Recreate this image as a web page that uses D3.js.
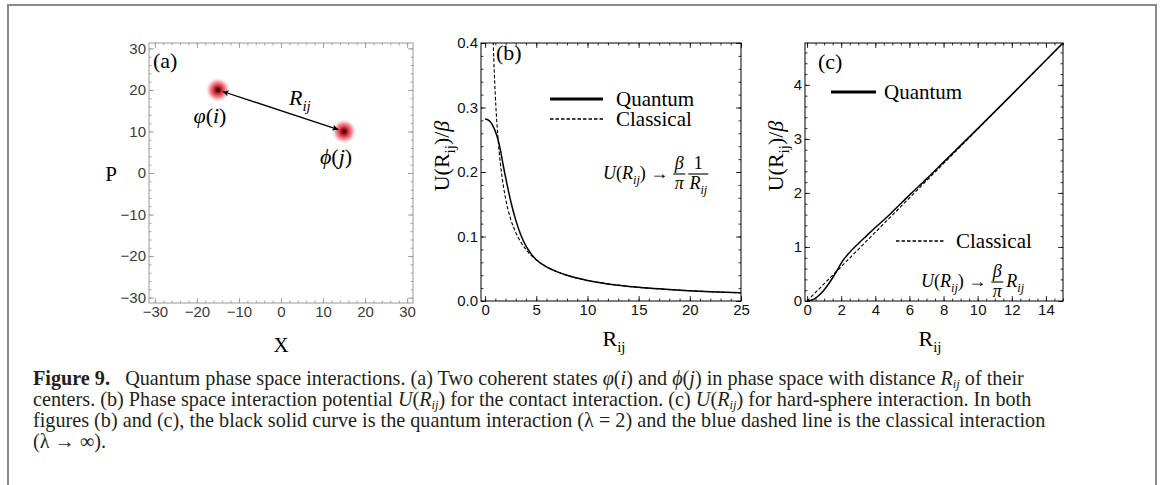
<!DOCTYPE html>
<html><head><meta charset="utf-8">
<script src="https://cdn.jsdelivr.net/npm/d3@7"></script>
<style>body{margin:0;background:#fff} svg{display:block}</style>
</head><body>
<svg id="fig" width="1163" height="485"></svg>
<script>
// ---------------- data ----------------
const aTicks = [-30, -20, -10, 0, 10, 20, 30];
const stateX = [-15, 15];
const stateP = [20, 10];
const stateSymbols = ["\u03C6", "\u03D5"];
const stateIndex = ["i", "j"];

const bTicksX = [0, 5, 10, 15, 20, 25];
const bTicksY = [0, 0.1, 0.2, 0.3, 0.4];
const bQuantumR = [0,0.25,0.5,0.75,1,1.25,1.5,1.75,2,2.5,3,3.5,4,4.5,5,6,7,8,10,12,15,20,25];
const bQuantumU = [0.282,0.281,0.278,0.272,0.263,0.251,0.234,0.212,0.192,0.155,0.125,0.102,0.085,0.073,0.064,0.053,0.0455,0.0398,0.0318,0.0265,0.0212,0.0159,0.0127];
const bClassicalR = [0.76,0.8,0.9,1,1.25,1.5,1.75,2,2.5,3,3.5,4,5,6,7,8,10,12,15,20,25];
const bClassicalU = [0.419,0.398,0.354,0.318,0.255,0.212,0.182,0.159,0.127,0.106,0.091,0.0796,0.0637,0.0531,0.0455,0.0398,0.0318,0.0265,0.0212,0.0159,0.0127];

const cTicksX = [0, 2, 4, 6, 8, 10, 12, 14];
const cTicksY = [0, 1, 2, 3, 4];
const cQuantumR = [0,0.25,0.5,0.75,1,1.25,1.5,1.75,2,2.5,3,3.5,4,4.5,5,6,7,8,10,12,15];
const cQuantumU = [0,0.015,0.055,0.12,0.205,0.31,0.43,0.557,0.70,0.90,1.06,1.21,1.36,1.50,1.65,1.96,2.26,2.57,3.19,3.82,4.775];
const cClassicalR = [0, 5, 10, 15];
const cClassicalU = [0, 1.59, 3.18, 4.775];

const legendLabels = ["Quantum", "Classical"];
const captionLines = [
  [{t:"Figure 9.", b:1},{t:"\u2002 Quantum phase space interactions. (a) Two coherent states "},{t:"\u03C6",i:1},{t:"("},{t:"i",i:1},{t:") and "},{t:"\u03D5",i:1},{t:"("},{t:"j",i:1},{t:") in phase space with distance "},{t:"R",i:1},{t:"ij",i:1,sub:1},{t:" of their"}],
  [{t:"centers. (b) Phase space interaction potential "},{t:"U",i:1},{t:"("},{t:"R",i:1},{t:"ij",i:1,sub:1},{t:") for the contact interaction. (c) "},{t:"U",i:1},{t:"("},{t:"R",i:1},{t:"ij",i:1,sub:1},{t:") for hard-sphere interaction. In both"}],
  [{t:"figures (b) and (c), the black solid curve is the quantum interaction ("},{t:"\u03BB = 2"},{t:") and the blue dashed line is the classical interaction"}],
  [{t:"(\u03BB \u2192 \u221E)."}]
];

// ---------------- helpers ----------------
const svg = d3.select("#fig");
const SERIF = "'Liberation Serif','Times New Roman',serif";
const SANS = "'Liberation Sans',Arial,sans-serif";

function rich(textSel, parts, size, subShift = 0.28, subSize = 0.68) {
  let off = 0;
  parts.forEach(p => {
    const ts = textSel.append("tspan").text(p.t);
    if (p.i) ts.attr("font-style", "italic");
    if (p.b) ts.attr("font-weight", "bold");
    const target = p.sub ? size * subShift : 0;
    if (target !== off) { ts.attr("dy", target - off); off = target; }
    if (p.sub) ts.attr("font-size", size * subSize);
  });
  return textSel;
}

function frame(g, x, y, opt) {
  const [x0, x1] = x.range(), [y0, y1] = y.range();
  const col = opt.color;
  const mk = (axisFn, scale, vals, size, labels, fmt) => {
    const a = axisFn(scale).tickValues(vals).tickSizeInner(-size).tickSizeOuter(0).tickPadding(opt.pad);
    if (!labels) a.tickFormat(""); else if (fmt) a.tickFormat(fmt);
    return a;
  };
  const put = (axis, tx, ty) => {
    const s = g.append("g").attr("transform", `translate(${tx},${ty})`).call(axis);
    s.select(".domain").remove();
    s.selectAll("line").attr("stroke", col).attr("stroke-width", 0.8);
    s.selectAll("text").attr("font-family", SANS).attr("font-size", 15).attr("fill", opt.labelColor);
    return s;
  };
  put(mk(d3.axisBottom, x, opt.xMinor, 2.5, false), 0, y0);
  put(mk(d3.axisTop, x, opt.xMinor, 2.5, false), 0, y1);
  put(mk(d3.axisLeft, y, opt.yMinor, 2.5, false), x0, 0);
  put(mk(d3.axisRight, y, opt.yMinor, 2.5, false), x1, 0);
  put(mk(d3.axisBottom, x, opt.xMajor, 5, true, opt.xFmt), 0, y0);
  put(mk(d3.axisTop, x, opt.xMajor, 5, false), 0, y1);
  put(mk(d3.axisLeft, y, opt.yMajor, 5, true, opt.yFmt), x0, 0);
  put(mk(d3.axisRight, y, opt.yMajor, 5, false), x1, 0);
  g.append("rect").attr("x", x0).attr("y", y1).attr("width", x1 - x0).attr("height", y0 - y1)
    .attr("fill", "none").attr("stroke", opt.frameColor).attr("stroke-width", opt.frameWidth);
}

function range(a, b, s) { return d3.range(Math.round(a / s), Math.round(b / s) + 1).map(k => +(k * s).toFixed(4)); }

// outer box
svg.append("path").attr("d", "M8,490 V5 H1156 V490").attr("fill", "none").attr("stroke", "#8a8a8a").attr("stroke-width", 2);

// ---------------- panel (a) ----------------
const ax = d3.scaleLinear().domain([-31.4, 31.4]).range([149, 413]);
const ay = d3.scaleLinear().domain([-31.3, 31.3]).range([303, 43]);
const ga = svg.append("g");
const defs = svg.append("defs");
const grad = defs.append("radialGradient").attr("id", "blob");
[[0, "#1a0000", 1], [0.12, "#5a0a10", 1], [0.3, "#d42230", 1], [0.62, "#e85a66", 0.65], [1, "#ffffff", 0]]
  .forEach(([o, c, op]) => grad.append("stop").attr("offset", o).attr("stop-color", c).attr("stop-opacity", op));
frame(ga, ax, ay, {xMajor: aTicks, yMajor: aTicks, xMinor: range(-30, 30, 2), yMinor: range(-30, 30, 2),
  color: "#8f8f8f", labelColor: "#3a3a3a", frameColor: "#9a9a9a", frameWidth: 1, pad: 3});
ga.selectAll("circle.blob").data(stateX).join("circle").attr("class", "blob")
  .attr("cx", d => ax(d)).attr("cy", (d, i) => ay(stateP[i])).attr("r", 13).attr("fill", "url(#blob)");
defs.append("marker").attr("id", "arr").attr("viewBox", "0 0 10 10").attr("refX", 10).attr("refY", 5)
  .attr("markerWidth", 9).attr("markerHeight", 6).attr("markerUnits", "userSpaceOnUse").attr("orient", "auto-start-reverse")
  .append("path").attr("d", "M0,0 L10,5 L0,10 L2.5,5 z").attr("fill", "#000");
const p1 = [ax(stateX[0]), ay(stateP[0])], p2 = [ax(stateX[1]), ay(stateP[1])];
const L = Math.hypot(p2[0] - p1[0], p2[1] - p1[1]);
const ux = (p2[0] - p1[0]) / L, uy = (p2[1] - p1[1]) / L;
ga.append("line").attr("x1", p1[0] + ux * 5).attr("y1", p1[1] + uy * 5).attr("x2", p2[0] - ux * 6).attr("y2", p2[1] - uy * 6)
  .attr("stroke", "#000").attr("stroke-width", 1.3).attr("marker-end", "url(#arr)").attr("marker-start", "url(#arr)");
const mid = [(p1[0] + p2[0]) / 2, (p1[1] + p2[1]) / 2];
rich(ga.append("text").attr("x", mid[0] + 8).attr("y", mid[1] - 6).attr("font-family", SERIF).attr("font-size", 22),
  [{t: "R", i: 1}, {t: "ij", i: 1, sub: 1}], 22);
stateX.forEach((d, i) => {
  rich(ga.append("text").attr("x", ax(d) - 8).attr("y", ay(stateP[i]) + 33).attr("text-anchor", "middle")
    .attr("font-family", SERIF).attr("font-size", 22),
    [{t: stateSymbols[i], i: 1}, {t: "("}, {t: stateIndex[i], i: 1}, {t: ")"}], 22);
});
ga.append("text").attr("x", 153).attr("y", 68).attr("font-family", SERIF).attr("font-size", 22).text("(a)");
ga.append("text").attr("x", 111).attr("y", 181).attr("text-anchor", "middle").attr("font-family", SERIF).attr("font-size", 21).text("P");
ga.append("text").attr("x", 281).attr("y", 352).attr("text-anchor", "middle").attr("font-family", SERIF).attr("font-size", 21).text("X");

// ---------------- panel (b) ----------------
const bx = d3.scaleLinear().domain([-0.4, 25]).range([481, 741]);
const by = d3.scaleLinear().domain([0, 0.4]).range([301, 43]);
const gb = svg.append("g");
defs.append("clipPath").attr("id", "clipb").append("rect").attr("x", 481).attr("y", 43).attr("width", 260).attr("height", 258);
const lineB = d3.line().curve(d3.curveMonotoneX);
gb.append("path").attr("clip-path", "url(#clipb)")
  .attr("d", lineB(bClassicalR.map((r, i) => [bx(r), by(bClassicalU[i])])))
  .attr("fill", "none").attr("stroke", "#000").attr("stroke-width", 1.1).attr("stroke-dasharray", "3.5,2");
gb.append("path").attr("clip-path", "url(#clipb)")
  .attr("d", lineB(bQuantumR.map((r, i) => [bx(r), by(bQuantumU[i])])))
  .attr("fill", "none").attr("stroke", "#000").attr("stroke-width", 1.5);
frame(gb, bx, by, {xMajor: bTicksX, yMajor: bTicksY, xMinor: range(0, 25, 1), yMinor: range(0, 0.4, 0.02),
  color: "#000", labelColor: "#111", frameColor: "#000", frameWidth: 1, pad: 3, yFmt: d3.format(".1f")});
gb.append("text").attr("x", 496).attr("y", 60).attr("font-family", SERIF).attr("font-size", 22).text("(b)");

function legend(g, x0, yy, texts) {
  texts.forEach((t, i) => {
    g.append("line").attr("x1", x0).attr("x2", x0 + 53).attr("y1", yy[i]).attr("y2", yy[i]).attr("stroke", "#000")
      .attr("stroke-width", i === 0 ? 3 : 1.4).attr("stroke-dasharray", i === 0 ? null : "3.5,2");
    g.append("text").attr("x", x0 + 66).attr("y", yy[i] + 7).attr("font-family", SERIF).attr("font-size", 21).text(t);
  });
}
legend(gb, 550, [99, 119], legendLabels);

function fracText(g, cx, cy, parts, size) {
  rich(g.append("text").attr("x", cx).attr("y", cy).attr("text-anchor", "middle").attr("font-family", SERIF).attr("font-size", size), parts, size);
}
function formula(g, x, yb, fracs, size) {
  const t = rich(g.append("text").attr("x", x).attr("y", yb + 5).attr("font-family", SERIF).attr("font-size", size),
    [{t: "U", i: 1}, {t: "("}, {t: "R", i: 1}, {t: "ij", i: 1, sub: 1}, {t: ") "}, {t: "\u2192"}], size);
  let cx = x + t.node().getComputedTextLength() + 5;
  fracs.forEach(f => {
    if (f.num) {
      g.append("line").attr("x1", cx).attr("x2", cx + f.w).attr("y1", yb).attr("y2", yb).attr("stroke", "#000").attr("stroke-width", 1.1);
      fracText(g, cx + f.w / 2, yb - 5, f.num, size);
      fracText(g, cx + f.w / 2, yb + 15, f.den, size);
    } else {
      rich(g.append("text").attr("x", cx).attr("y", yb + 5).attr("font-family", SERIF).attr("font-size", size), f.inline, size);
    }
    cx += f.w + 3;
  });
}
formula(gb, 603, 174, [
  {num: [{t: "\u03B2", i: 1}], den: [{t: "\u03C0", i: 1}], w: 12},
  {num: [{t: "1"}], den: [{t: "R", i: 1}, {t: "ij", i: 1, sub: 1}], w: 20}
], 18);

const ylab = (g, x, y) => rich(g.append("text").attr("transform", `translate(${x},${y}) rotate(-90)`).attr("text-anchor", "middle")
  .attr("font-family", SERIF).attr("font-size", 22), [{t: "U(R"}, {t: "ij", sub: 1}, {t: ")/"}, {t: "\u03B2", i: 1}], 22);
ylab(gb, 449, 156);
const xlab = (g, x, y) => rich(g.append("text").attr("x", x).attr("y", y).attr("text-anchor", "middle")
  .attr("font-family", SERIF).attr("font-size", 22), [{t: "R"}, {t: "ij", sub: 1}], 22);
xlab(gb, 614, 346);

// ---------------- panel (c) ----------------
const cx = d3.scaleLinear().domain([-0.12, 15]).range([805, 1063]);
const cy = d3.scaleLinear().domain([0, 4.775]).range([301, 43]);
const gc = svg.append("g");
defs.append("clipPath").attr("id", "clipc").append("rect").attr("x", 805).attr("y", 43).attr("width", 258).attr("height", 258);
gc.append("path").attr("clip-path", "url(#clipc)")
  .attr("d", lineB(cClassicalR.map((r, i) => [cx(r), cy(cClassicalU[i])])))
  .attr("fill", "none").attr("stroke", "#000").attr("stroke-width", 1.1).attr("stroke-dasharray", "3.5,2");
gc.append("path").attr("clip-path", "url(#clipc)")
  .attr("d", lineB(cQuantumR.map((r, i) => [cx(r), cy(cQuantumU[i])])))
  .attr("fill", "none").attr("stroke", "#000").attr("stroke-width", 1.5);
frame(gc, cx, cy, {xMajor: cTicksX, yMajor: cTicksY, xMinor: range(0, 15, 0.5), yMinor: range(0, 4.6, 0.2),
  color: "#000", labelColor: "#111", frameColor: "#000", frameWidth: 1, pad: 3, yFmt: d3.format("d")});
gc.append("text").attr("x", 818).attr("y", 69).attr("font-family", SERIF).attr("font-size", 22).text("(c)");
gc.append("line").attr("x1", 831).attr("x2", 876).attr("y1", 92).attr("y2", 92).attr("stroke", "#000").attr("stroke-width", 3);
gc.append("text").attr("x", 884).attr("y", 99).attr("font-family", SERIF).attr("font-size", 21).text(legendLabels[0]);
gc.append("line").attr("x1", 896).attr("x2", 944).attr("y1", 241).attr("y2", 241).attr("stroke", "#000").attr("stroke-width", 1.4).attr("stroke-dasharray", "3.5,2");
gc.append("text").attr("x", 956).attr("y", 248).attr("font-family", SERIF).attr("font-size", 21).text(legendLabels[1]);
formula(gc, 921, 282, [
  {num: [{t: "\u03B2", i: 1}], den: [{t: "\u03C0", i: 1}], w: 12},
  {inline: [{t: "R", i: 1}, {t: "ij", i: 1, sub: 1}], w: 20}
], 18);
ylab(gc, 783, 156);
xlab(gc, 930, 346);

// ---------------- caption ----------------
const cap = svg.append("g");
captionLines.forEach((parts, k) => {
  rich(cap.append("text").attr("x", 33).attr("y", 385 + k * 21).attr("font-family", SERIF).attr("font-size", 20.2).attr("fill", "#231f20"),
    parts, 20.2, 0.16, 0.62);
});
</script>
</body></html>
